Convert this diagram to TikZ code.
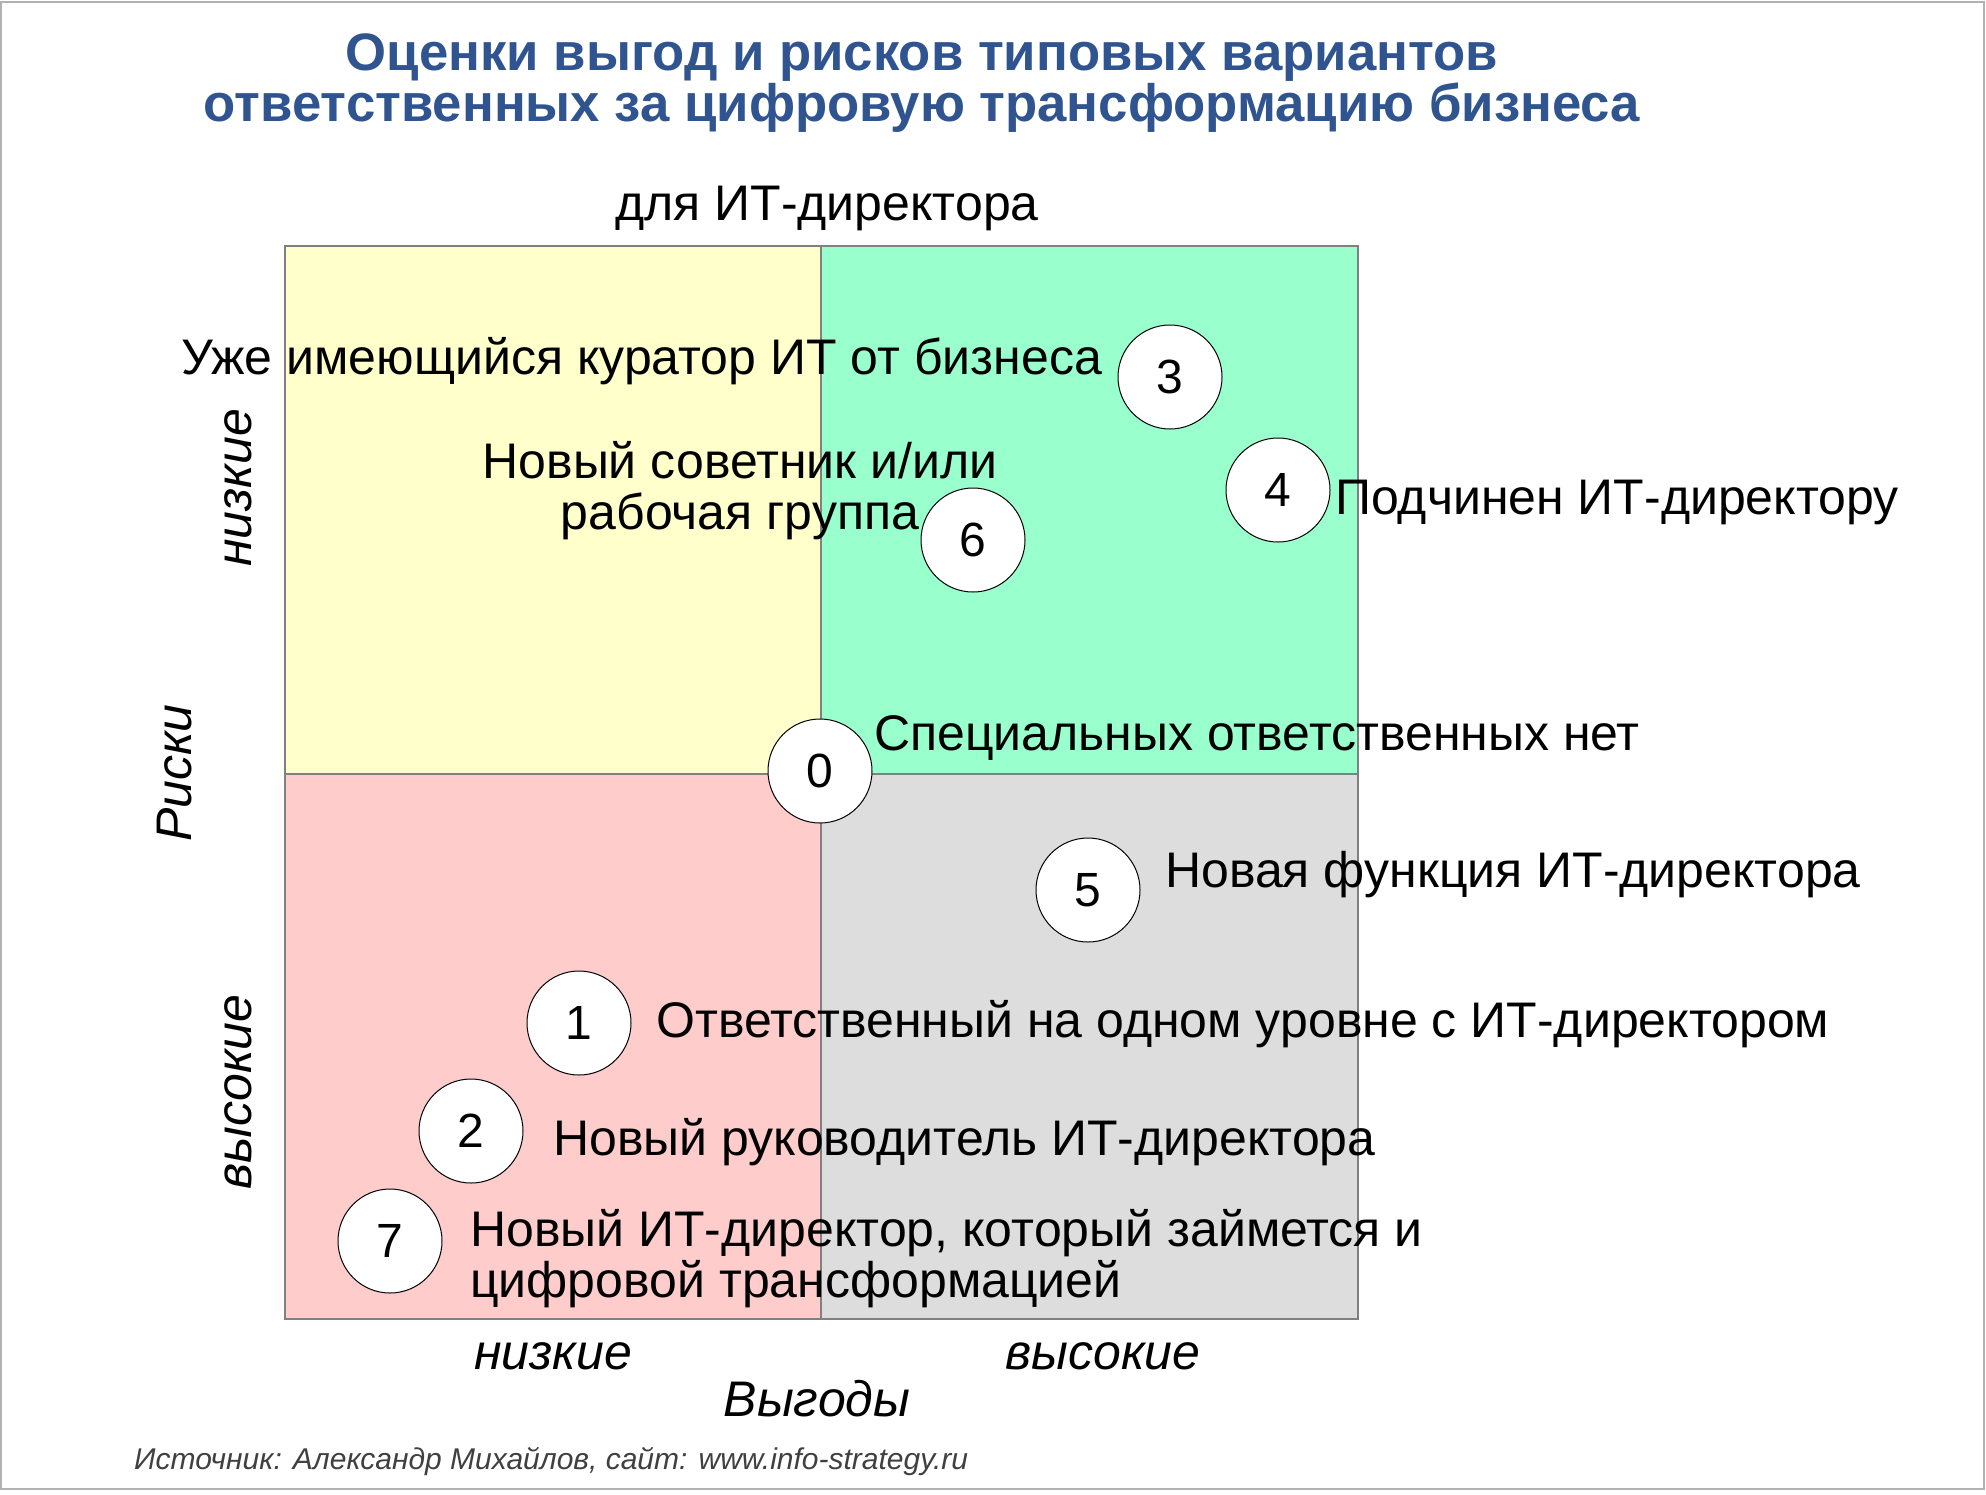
\documentclass[tikz,border=0pt]{standalone}
\usepackage{fontspec}
\setmainfont{Liberation Sans}
\definecolor{titleblue}{RGB}{47,84,143}
\definecolor{qyellow}{RGB}{255,255,204}
\definecolor{qgreen}{RGB}{153,255,204}
\definecolor{qpink}{RGB}{255,204,204}
\definecolor{qgray}{RGB}{221,221,221}
\definecolor{gridline}{RGB}{128,128,128}
\definecolor{srcgray}{RGB}{64,64,64}
\tikzset{
  quad/.style={draw=gridline, line width=2.2pt},
  num/.style={circle, draw=black, line width=1pt, fill=white, minimum size=104pt, inner sep=0pt, font=\fontsize{48}{52}\selectfont},
  lbl/.style={font=\fontsize{50}{51}\selectfont, inner sep=0pt},
  axis/.style={font=\fontsize{50}{52}\selectfont\itshape, inner sep=0pt},
  ttl/.style={font=\fontsize{52.7}{51}\selectfont\bfseries, text=titleblue, align=center, inner sep=0pt}
}
\begin{document}
\begin{tikzpicture}[x=1pt, y=-1pt]
\useasboundingbox (0,0) rectangle (1986,1494);
\fill[white] (0,0) rectangle (1986,1494);
\draw[gray!60, line width=1.5pt] (1,2) rectangle (1984,1489);
% quadrants
\filldraw[quad, fill=qyellow] (285,246) rectangle (821,774);
\filldraw[quad, fill=qgreen] (821,246) rectangle (1358,774);
\filldraw[quad, fill=qpink] (285,774) rectangle (821,1319);
\filldraw[quad, fill=qgray] (821,774) rectangle (1358,1319);
% title
\node[ttl] (title) at (922,83) {Оценки выгод и рисков типовых вариантов\\ответственных за цифровую трансформацию бизнеса};
\node[lbl] (sub) at (827,208) {для ИТ-директора};
% labels
\node[lbl, anchor=west] (t3) at (181,361) {Уже имеющийся куратор ИТ от бизнеса};
\node[lbl, align=center] (t6) at (740,491) {Новый советник и/или\\рабочая группа};
\node[lbl, anchor=west] (t4) at (1335,502) {Подчинен ИТ-директору};
\node[lbl, anchor=west] (t0) at (874,738) {Специальных ответственных нет};
\node[lbl, anchor=west] (t5) at (1165,875) {Новая функция ИТ-директора};
\node[lbl, anchor=west] (t1) at (656,1024) {Ответственный на одном уровне с ИТ-директором};
\node[lbl, anchor=west] (t2) at (553,1142) {Новый руководитель ИТ-директора};
\node[lbl, anchor=west, align=left] (t7) at (470,1259) {Новый ИТ-директор, который займется и\\цифровой трансформацией};
% axes
\node[axis, rotate=90] (ylow) at (238,488) {низкие};
\node[axis, rotate=90] (yaxis) at (175,773) {Риски};
\node[axis, rotate=90] (yhigh) at (238,1092) {высокие};
\node[axis] (xlow) at (553,1356) {низкие};
\node[axis] (xhigh) at (1103,1356) {высокие};
\node[axis] (xaxis) at (817,1399) {Выгоды};
\node[anchor=west, inner sep=0pt, font=\fontsize{30}{32}\selectfont\itshape, text=srcgray] (src) at (134,1462) {Источник: Александр Михайлов, сайт: www.info-strategy.ru};
% circles
\node[num] (n0) at (820,771) {0};
\node[num] (n3) at (1170,377) {3};
\node[num] (n4) at (1278,490) {4};
\node[num] (n6) at (973,540) {6};
\node[num] (n5) at (1088,890) {5};
\node[num] (n1) at (579,1023) {1};
\node[num] (n2) at (471,1131) {2};
\node[num] (n7) at (390,1241) {7};
\end{tikzpicture}
\end{document}
